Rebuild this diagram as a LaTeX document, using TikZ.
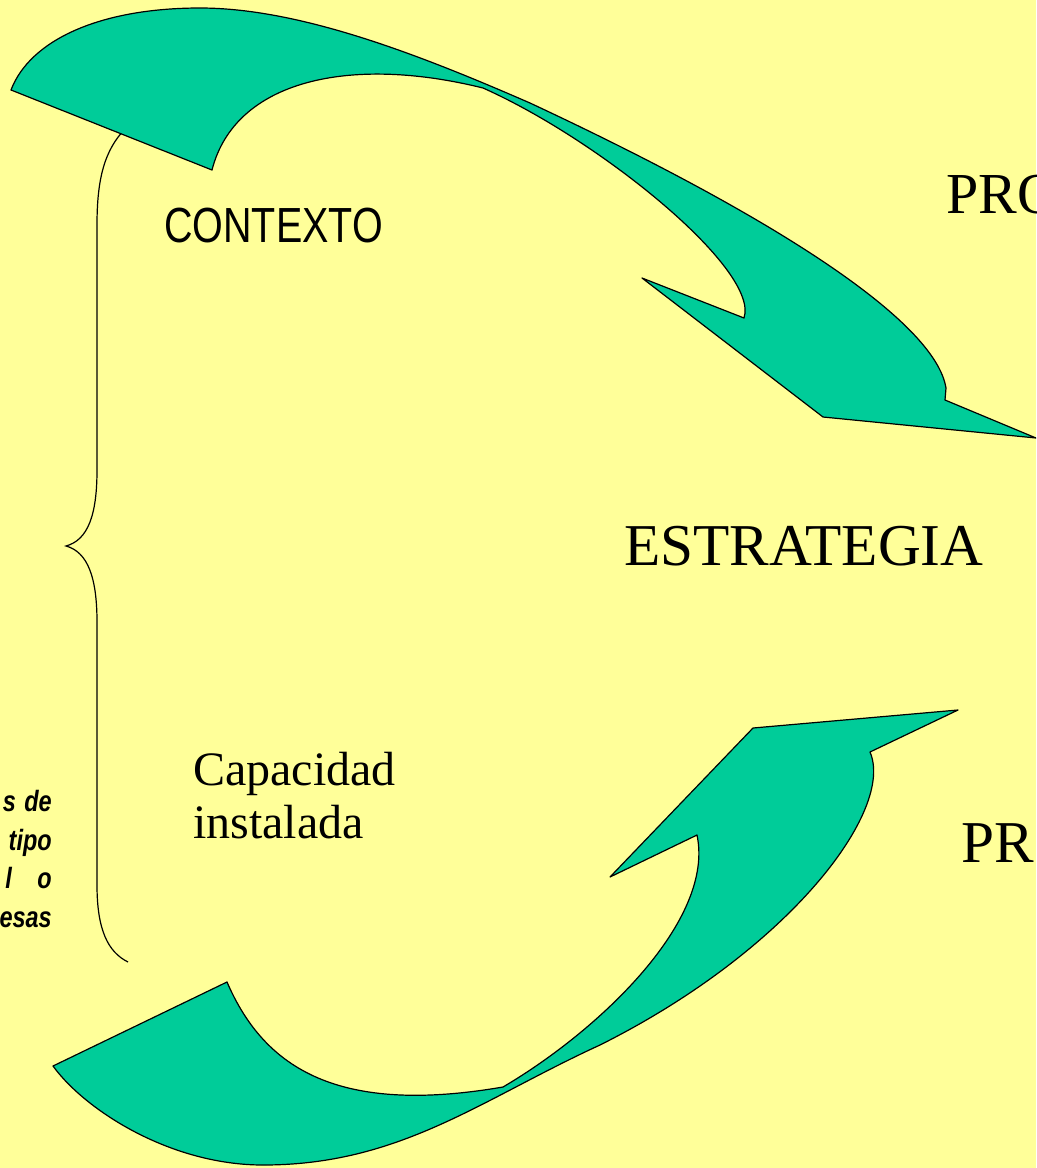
\documentclass[tikz,border=0pt]{standalone}
\usepackage{fontspec}
\setmainfont{Liberation Serif}
\newfontfamily\arialf{Liberation Sans}
\definecolor{bgyellow}{RGB}{255,255,153}
\definecolor{arrowgreen}{RGB}{0,204,153}
\tikzset{
  curvedarrow/.style={fill=arrowgreen, draw=black, line width=0.9pt, line join=round},
  bracestyle/.style={draw=black, line width=0.9pt},
  seriflabel/.style={anchor=base west, inner sep=0pt, font=\fontsize{44.5pt}{48pt}\selectfont},
}
\begin{document}
\begin{tikzpicture}[x=0.75pt,y=-0.75pt]
\clip (0,0) rectangle (1036,1168);
\fill[bgyellow] (0,0) rectangle (1036,1168);

% brace
\draw[bracestyle] (126,128) .. controls (104,150) and (97,180) .. (97,225)
  -- (97,470) .. controls (97,515) and (88,540) .. (66,546)
  .. controls (88,552) and (97,578) .. (97,622)
  -- (97,885) .. controls (97,930) and (108,952) .. (128,962);

% top curved arrow
\path[curvedarrow] (11,90) -- (212,170)
  .. controls (235,80) and (350,55) .. (483,88)
  .. controls (600,140) and (760,270) .. (744,318)
  -- (642,278) -- (823,417) -- (1036,438) -- (945,400)
  -- (946,388)
  .. controls (935,320) and (770,215) .. (530,103)
  .. controls (420,55) and (300,8) .. (200,8)
  .. controls (100,8) and (30,40) .. (11,90) -- cycle;

% bottom curved arrow
\path[curvedarrow] (53,1066) -- (227,982)
  .. controls (265,1070) and (340,1115) .. (503,1087)
  .. controls (600,1030) and (715,920) .. (697,835)
  -- (610,877) -- (753,728) -- (958,710) -- (870,752)
  .. controls (895,810) and (790,950) .. (600,1045)
  .. controls (480,1100) and (400,1165) .. (263,1165)
  .. controls (170,1165) and (85,1110) .. (53,1066) -- cycle;

% texts
\node[anchor=base west, inner sep=0pt] (contexto) at (164,242)
  {\scalebox{0.8}[1]{\arialf\fontsize{37pt}{40pt}\selectfont CONTEXTO}};
\node[seriflabel, font=\fontsize{43.5pt}{48pt}\selectfont] (pro) at (946,213) {PRO};
\node[seriflabel] (estrategia) at (624,565) {ESTRATEGIA};
\node[seriflabel] (pr) at (961,862) {PR};
\node[anchor=base west, inner sep=0pt, align=left,
      font=\fontsize{36pt}{39.75pt}\selectfont] (capacidad) at (193,838)
  {Capacidad\\instalada};
\node[anchor=base east, inner sep=0pt, align=right,
      font=\arialf\bfseries\itshape\fontsize{22pt}{28.8pt}\selectfont] (lefttext) at (52,927)
  {\scalebox{0.8}[1]{s\hspace{8pt}de}\\\scalebox{0.8}[1]{tipo}\\\scalebox{0.8}[1]{l\hspace{24pt}o}\\\scalebox{0.8}[1]{esas}};
\end{tikzpicture}
\end{document}
